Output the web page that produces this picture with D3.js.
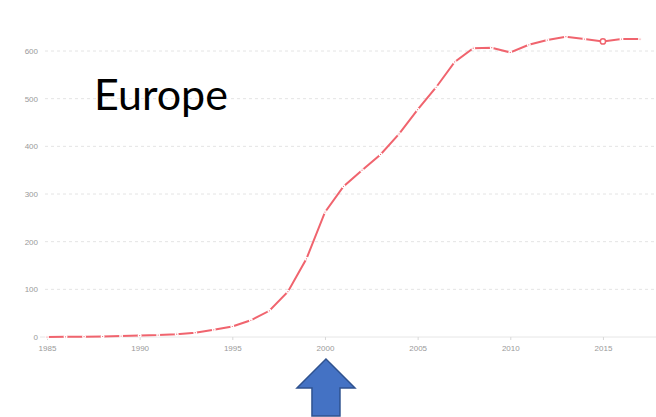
<!DOCTYPE html>
<html lang="en">

<head>
    <meta charset="UTF-8">
    <script src="https://cdnjs.cloudflare.com/ajax/libs/d3/7.9.0/d3.min.js"></script>
    <title>Europe</title>
    <style>
        body {
            margin: 0;
            background-color: white;
            font-family: "Open Sans", sans-serif;
        }

        svg {
            display: block;
        }

        .grid line {
            stroke: #e4e4e4;
            stroke-dasharray: 3 3;
        }

        .axis text {
            fill: #9a9a9a;
            font-size: 8px;
        }
    </style>
</head>

<body>
    <div id="content"></div>
    <script>
        const width = 656;
        const height = 417;
        const margin = { top: 51, right: 16, bottom: 80, left: 47 };

        // values
        const years = [1985, 1986, 1987, 1988, 1989, 1990, 1991, 1992, 1993, 1994, 1995, 1996,
            1997, 1998, 1999, 2000, 2001, 2002, 2003, 2004, 2005, 2006, 2007, 2008,
            2009, 2010, 2011, 2012, 2013, 2014, 2015, 2016, 2017];
        const values = [0, 0.3, 0.6, 1, 2, 3, 4, 6, 9, 15, 22, 35,
            55, 95, 164, 262, 316, 350, 383, 426, 477, 524, 577, 606,
            607, 597, 613, 623, 630, 625, 620, 625, 625];
        const yTicks = [0, 100, 200, 300, 400, 500, 600];
        const xTicks = [1985, 1990, 1995, 2000, 2005, 2010, 2015];
        const highlightYear = 2015;
        const title = "Europe";

        const data = years.map((yr, i) => ({ year: yr, value: values[i] }));

        const svg = d3.select("#content").append("svg")
            .attr("width", width)
            .attr("height", height);

        const x = d3.scaleLinear()
            .domain([1985, 2017])
            .range([margin.left, 640]);

        const y = d3.scaleLinear()
            .domain([0, 600])
            .range([height - margin.bottom, margin.top]);

        // dashed grid lines
        svg.append("g")
            .attr("class", "grid")
            .selectAll("line")
            .data(yTicks.filter(d => d > 0))
            .enter()
            .append("line")
            .attr("x1", 45)
            .attr("x2", width)
            .attr("y1", d => y(d))
            .attr("y2", d => y(d));

        // x axis
        const xAxis = svg.append("g")
            .attr("class", "axis")
            .attr("transform", `translate(0, ${y(0)})`)
            .call(d3.axisBottom(x).tickValues(xTicks).tickFormat(d3.format("d")).tickSize(3).tickPadding(5));
        xAxis.select(".domain").attr("stroke", "#e6e6e6").attr("d", `M40,0H${width}`);
        xAxis.selectAll(".tick line").attr("stroke", "#d8d8d8");

        // y axis
        const yAxis = svg.append("g")
            .attr("class", "axis")
            .attr("transform", `translate(38, 0)`)
            .call(d3.axisLeft(y).tickValues(yTicks).tickSize(0).tickPadding(0));
        yAxis.select(".domain").remove();

        const line = d3.line()
            .x(d => x(d.year))
            .y(d => y(d.value));

        svg.append("path")
            .datum(data)
            .attr("fill", "none")
            .attr("stroke", "#f0646e")
            .attr("stroke-width", 2)
            .attr("d", line);

        // small point markers
        svg.selectAll("circle.pt")
            .data(data.filter(d => d.year !== highlightYear))
            .enter()
            .append("circle")
            .attr("class", "pt")
            .attr("cx", d => x(d.year))
            .attr("cy", d => y(d.value))
            .attr("r", 1.3)
            .attr("fill", "#f0646e")
            .attr("stroke", "white")
            .attr("stroke-width", 1.4);

        svg.selectAll("circle.hl")
            .data(data.filter(d => d.year === highlightYear))
            .enter()
            .append("circle")
            .attr("class", "hl")
            .attr("cx", d => x(d.year))
            .attr("cy", d => y(d.value))
            .attr("r", 2.6)
            .attr("fill", "white")
            .attr("stroke", "#f0646e")
            .attr("stroke-width", 1.5);

        // title
        svg.append("text")
            .attr("x", 94)
            .attr("y", 110)
            .attr("font-family", "Lato, sans-serif")
            .attr("font-size", 43)
            .attr("fill", "black")
            .text(title);

        // blue arrow pointing at 2000
        const ax = x(2000) + 1;
        svg.append("path")
            .attr("d", `M${ax},359 L${ax + 29},388 L${ax + 14},388 L${ax + 14},416 L${ax - 14},416 L${ax - 14},388 L${ax - 29},388 Z`)
            .attr("fill", "#4472c4")
            .attr("stroke", "#2f528f")
            .attr("stroke-width", 1.5);
    </script>

</body>

</html>
